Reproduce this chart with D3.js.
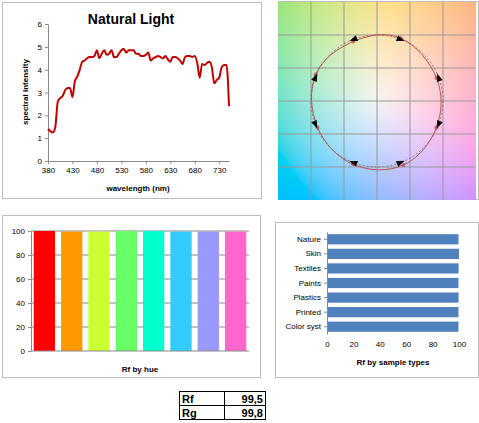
<!DOCTYPE html>
<html><head><meta charset="utf-8">
<script src="https://cdn.jsdelivr.net/npm/d3@7"></script>
<style>body{margin:0;background:#fff}svg{display:block;font-family:"Liberation Sans",Arial,sans-serif}</style>
</head><body><svg id="c" width="479" height="423"></svg>
<script>
const wavelengths=[380,385,390,395,400,405,410,415,420,425,430,435,440,445,450,455,460,465,470,475,480,485,490,495,500,505,510,515,520,525,530,535,540,545,550,555,560,565,570,575,580,585,590,595,600,605,610,615,620,625,630,635,640,645,650,655,660,665,670,675,680,685,690,695,700,705,710,715,720,725,730,735,740,745,750];
const intensity=[1.4,1.3,1.25,1.5,2.6,2.75,2.85,3.1,3.2,3.2,2.8,3.5,3.7,4.0,4.35,4.4,4.5,4.55,4.55,4.6,4.85,4.5,4.7,4.85,4.65,4.7,4.85,4.55,4.55,4.7,4.85,4.9,4.75,4.85,4.85,4.85,4.7,4.7,4.6,4.6,4.65,4.75,4.4,4.5,4.55,4.6,4.55,4.5,4.6,4.45,4.35,4.55,4.55,4.5,4.4,4.25,4.55,4.6,4.6,4.55,4.6,4.3,3.65,4.25,4.2,4.3,4.35,4.1,3.4,3.55,3.65,4.1,4.2,4.2,2.4];
const xTicks=[380,430,480,530,580,630,680,730];
const yTicks=[0,1,2,3,4,5,6];
const hueColors=["#ff0000","#ff9900","#ccff33","#66ff66","#00ffcc","#33ccff","#9999ff","#ff66cc"];
const hueRf=[100,99.5,99.5,100,100,99.5,99.5,99.5];
const sampleTypes=["Nature","Skin","Textiles","Paints","Plastics","Printed","Color syst"];
const sampleRf=[99.6,100,99.7,99.6,99.7,99.6,99.6];
const refX=[-0.36,0.36,0.93,0.93,0.36,-0.36,-0.93,-0.93];
const refY=[0.93,0.93,0.36,-0.36,-0.93,-0.93,-0.36,0.36];
const testX=[-0.36,0.36,0.9,0.9,0.4,-0.36,-0.9,-0.93];
const testY=[0.9,0.95,0.35,-0.4,-0.97,-0.96,-0.4,0.4];
const tableRows=[["Rf","99,5"],["Rg","99,8"]];

const svg=d3.select("#c");
function box(x,y,w,h){svg.append("rect").attr("x",x+.5).attr("y",y+.5).attr("width",w).attr("height",h).attr("fill","#fff").attr("stroke","#bbb");}

// Panel 1
box(2,2,259,196);
const x1=d3.scaleLinear().domain([380,750]).range([48,229]);
const y1=d3.scaleLinear().domain([0,6]).range([161,24]);
const g1=svg.append("g");
g1.append("g").attr("transform","translate(0,161)").call(d3.axisBottom(x1).tickValues(xTicks).tickSize(3).tickSizeOuter(0));
g1.append("g").attr("transform","translate(48,0)").call(d3.axisLeft(y1).tickValues(yTicks).tickFormat(d3.format("d")).tickSize(3).tickSizeOuter(0));
g1.selectAll(".domain,.tick line").attr("stroke","#888");
g1.selectAll(".tick text").attr("font-size",8).attr("fill","#000");
g1.append("path").datum(wavelengths.map((w,i)=>[w,intensity[i]])).attr("fill","none").attr("stroke","#c00000").attr("stroke-width",2)
 .attr("d",d3.line().x(d=>x1(d[0])).y(d=>y1(d[1])).curve(d3.curveMonotoneX));
svg.append("text").attr("x",131).attr("y",24).attr("text-anchor","middle").attr("font-size",14).attr("font-weight","bold").text("Natural Light");
svg.append("text").attr("x",138).attr("y",191).attr("text-anchor","middle").attr("font-size",8).attr("font-weight","bold").text("wavelength (nm)");
svg.append("text").attr("transform","translate(28,92) rotate(-90)").attr("text-anchor","middle").attr("font-size",8).attr("font-weight","bold").text("spectral intensity");

// Panel 2
box(278,1,200,198);
const px=d3.scaleLinear().domain([-1.5,1.5]).range([278,476]);
const py=d3.scaleLinear().domain([-1.5,1.5]).range([200,2]);
const cw=198,ch=198,cv=document.createElement("canvas");cv.width=cw;cv.height=ch;
const ctx=cv.getContext("2d"),img=ctx.createImageData(cw,ch);
for(let j=0;j<ch;j++)for(let i=0;i<cw;i++){
 const a=px.invert(278+i),b=py.invert(2+j),r=Math.hypot(a,b);
 const c=d3.rgb(d3.lab(96-9*r+5*b,a*26,b*30));const k=(j*cw+i)*4;
 img.data[k]=c.r;img.data[k+1]=c.g;img.data[k+2]=c.b;img.data[k+3]=255;}
ctx.putImageData(img,0,0);
svg.append("image").attr("x",278).attr("y",2).attr("width",cw).attr("height",ch).attr("href",cv.toDataURL());
const gridV=[-1,-0.5,0,0.5,1];
svg.selectAll(".gv").data(gridV).join("line").attr("x1",d=>px(d)).attr("x2",d=>px(d)).attr("y1",2).attr("y2",200).attr("stroke","#999");
svg.selectAll(".gh").data(gridV).join("line").attr("y1",d=>py(d)).attr("y2",d=>py(d)).attr("x1",278).attr("x2",476).attr("stroke","#999");
svg.append("circle").attr("cx",px(0)).attr("cy",py(0)).attr("r",px(1)-px(0)).attr("fill","none").attr("stroke","#777").attr("stroke-dasharray","2,2");
svg.append("path").datum(testX.map((v,i)=>[v,testY[i]])).attr("fill","none").attr("stroke","#c0504d").attr("stroke-width",1)
 .attr("d",d3.line().x(d=>px(d[0])).y(d=>py(d[1])).curve(d3.curveCardinalClosed.tension(-0.1)));
testX.forEach((v,i)=>{
 svg.append("circle").attr("cx",px(v)).attr("cy",py(testY[i])).attr("r",2).attr("fill","#c0504d").attr("opacity",.8);
 const ang=Math.atan2(-(testY[i]),testX[i])*180/Math.PI+ (i%2?90:-90);
 svg.append("path").attr("d","M-4,-3L4,0L-4,3Z").attr("fill","#000")
  .attr("transform",`translate(${px(refX[i])},${py(refY[i])}) rotate(${ang})`);
});

// Panel 3
box(2,215,258,162);
const x3=d3.scaleBand().domain(d3.range(8)).range([31,249]).paddingInner(0.22).paddingOuter(0.1);
const y3=d3.scaleLinear().domain([0,100]).range([351,231]);
svg.selectAll(".hg").data([20,40,60,80,100]).join("line").attr("x1",31).attr("x2",249).attr("y1",d=>y3(d)).attr("y2",d=>y3(d)).attr("stroke","#888");
svg.selectAll(".hb").data(hueRf).join("rect").attr("x",(d,i)=>x3(i)).attr("width",x3.bandwidth()).attr("y",d=>y3(d)).attr("height",d=>351-y3(d)).attr("fill",(d,i)=>hueColors[i]);
const g3=svg.append("g").attr("transform","translate(31,0)").call(d3.axisLeft(y3).tickValues([0,20,40,60,80,100]).tickSize(3).tickSizeOuter(0));
g3.selectAll(".domain,.tick line").attr("stroke","#888");g3.selectAll(".tick text").attr("font-size",8).attr("fill","#000");
svg.append("line").attr("x1",31).attr("x2",249).attr("y1",351).attr("y2",351).attr("stroke","#888");
svg.append("text").attr("x",140).attr("y",372).attr("text-anchor","middle").attr("font-size",8).attr("font-weight","bold").text("Rf by hue");

// Panel 4
box(275,222,203,155);
const x4=d3.scaleLinear().domain([0,100]).range([327,459]);
const y4=d3.scaleBand().domain(sampleTypes).range([232,334]).paddingInner(0.3).paddingOuter(0.15);
svg.selectAll(".sb").data(sampleRf).join("rect").attr("x",327).attr("y",(d,i)=>y4(sampleTypes[i])).attr("height",y4.bandwidth()).attr("width",d=>x4(d)-327).attr("fill","#4f81bd");
const g4=svg.append("g").attr("transform","translate(0,334)").call(d3.axisBottom(x4).tickValues([0,20,40,60,80,100]).tickSize(0).tickPadding(7));
g4.select(".domain").remove();g4.selectAll(".tick text").attr("font-size",8).attr("fill","#000");
const g5=svg.append("g").attr("transform","translate(327,0)").call(d3.axisLeft(y4).tickSize(3).tickSizeOuter(0));
g5.selectAll(".domain,.tick line").attr("stroke","#888");g5.selectAll(".tick text").attr("font-size",8).attr("fill","#000");
svg.append("text").attr("x",393).attr("y",365).attr("text-anchor","middle").attr("font-size",8).attr("font-weight","bold").text("Rf by sample types");

// Table
tableRows.forEach((r,i)=>{
 const y=391+i*14;
 svg.append("rect").attr("x",179.5).attr("y",y+.5).attr("width",45).attr("height",14).attr("fill","none").attr("stroke","#000");
 svg.append("rect").attr("x",224.5).attr("y",y+.5).attr("width",41).attr("height",14).attr("fill","none").attr("stroke","#000");
 svg.append("text").attr("x",182).attr("y",y+12).attr("font-size",11).attr("font-weight","bold").text(r[0]);
 svg.append("text").attr("x",263).attr("y",y+12).attr("text-anchor","end").attr("font-size",11).attr("font-weight","bold").text(r[1]);
});
</script></body></html>
